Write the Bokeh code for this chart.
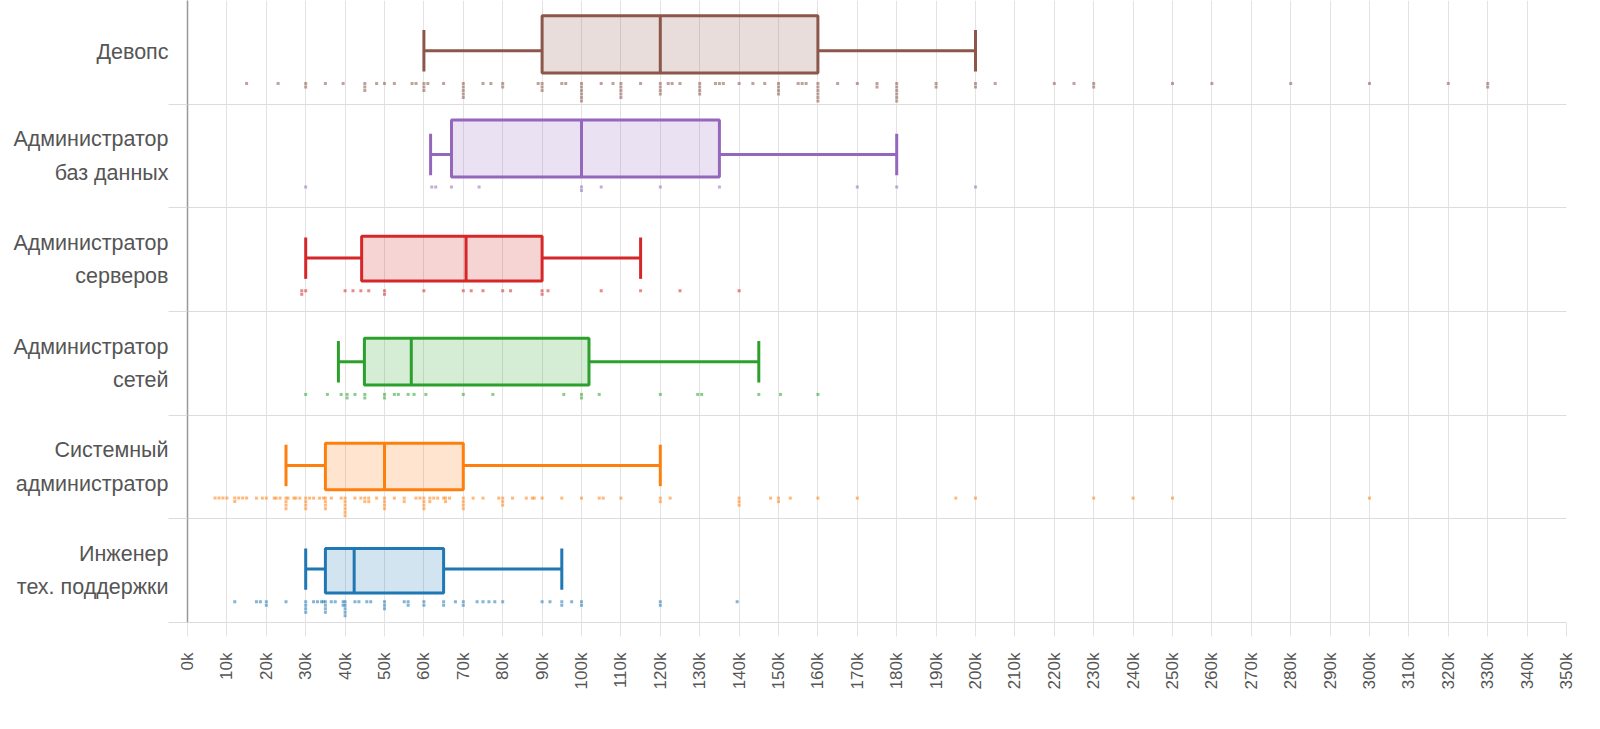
import numpy as np
from bokeh.plotting import figure
from bokeh.models import FixedTicker, Range1d, ColumnDataSource
from bokeh.embed import file_html
from bokeh.resources import INLINE

# ---------------- data (salaries in thousands) ----------------
categories = ["Инженер\nтех. поддержки", "Системный\nадминистратор", "Администратор\nсетей",
              "Администратор\nсерверов", "Администратор\nбаз данных", "Девопс"]
colors = ["#1f77b4", "#ff7f0e", "#2ca02c", "#d62728", "#9467bd", "#8c564b"]

whisker_low = [30, 25, 38.3, 30, 61.7, 60]
q1 = [35, 35, 44.9, 44.2, 67, 90]
median = [42.3, 50, 56.8, 70.7, 100, 120]
q3 = [65, 70, 101.9, 90, 135, 160]
whisker_high = [95, 120, 145, 115, 180, 200]

support = [12, 17.5, 18.5, 20, 20, 25, 30, 30, 30, 30, 32, 33, 34, 34.5, 35, 35, 35, 35,
           36.5, 37.5, 39.5, 39.5, 40, 40, 40, 40, 40, 42.5, 43.5, 45.5, 46.5, 50, 50, 50,
           55, 56, 56, 60, 60, 65, 65, 68, 70, 70, 73.5, 75, 76.5, 78, 80, 90, 92,
           95, 95, 97.5, 100, 100, 120, 120, 139.5]
sysadmin = [7, 8, 9, 10, 12, 12, 13, 14, 15, 17.5, 19, 20, 22, 22.5, 23.5, 25, 25, 25, 25, 25.5,
            27, 27.5, 28.5, 30, 30, 30, 30, 31, 32, 33.5, 34.5, 35, 35, 35, 35, 36.5, 39,
            40, 40, 40, 40, 40, 40, 42.5, 44, 45, 45, 46, 46, 48, 50, 50, 50, 50, 52.5, 55, 55,
            58, 59, 60, 60, 60, 60, 61.5, 61.5, 62.5, 63.5, 65, 65.5, 65.5, 66.5, 70, 70, 70,
            70, 72.5, 75, 79, 80, 80, 80, 82.5, 86, 87.5, 88, 90, 95, 100, 104.5, 105.5, 110,
            120, 120, 122.5, 140, 140, 140, 148, 150, 150, 153, 160, 170, 195, 200, 230, 240, 250, 300]
network = [30, 35.5, 39, 40.5, 40.5, 42.5, 45, 45, 50, 50, 52.5, 53.5, 56, 57.5,
           60.5, 70, 77.5, 95.5, 100, 100, 104.5, 120, 129.5, 130.5, 145, 150.5, 160]
servers = [29, 29, 30, 40, 42, 44, 46, 50, 50, 60, 70, 72, 75, 80, 82, 90, 90, 91.5, 105,
           115, 125, 140]
dba = [30, 62, 63, 67, 74, 100, 100, 105, 120, 135, 170, 180, 200]
devops = [15, 23, 30, 30, 35, 39.5, 45, 45, 45, 48, 50, 52.5, 57, 58, 60, 60, 60,
          61, 65, 70, 70, 70, 70, 70, 75, 77, 80, 80, 89, 90, 90, 90, 95, 96,
          100, 100, 100, 100, 100, 100, 105, 108, 110, 110, 110, 110, 110,
          115, 120, 120, 120, 120, 122, 123, 125, 130, 130, 130, 130, 134, 135,
          136, 140, 143.5, 146.5, 150, 150, 150, 150, 155, 156, 157, 160, 160, 160,
          160, 160, 160, 165, 170, 175, 175, 180, 180, 180, 180, 180, 180,
          190, 190, 200, 200, 205, 220, 225, 230, 230, 250, 260, 280, 300, 320,
          330, 330]
points = [support, sysadmin, network, servers, dba, devops]

x_ticks = list(range(0, 351, 10))
x_tick_labels = [f"{v}k" for v in x_ticks]

# ---------------- layout (band units, 1 band = one category row) ----------------
box_bottom_off = [0.285, 0.28, 0.29, 0.294, 0.298, 0.30]
box_top_off = [0.715, 0.73, 0.742, 0.727, 0.848, 0.852]
WHISK_C = 0.515
CAP_HALF = 0.2
DOT_BASE = 0.2
DOT_STEP = 0.034

p = figure(width=1584, height=713, x_range=Range1d(0, 350), y_range=Range1d(0, 6),
           output_backend="svg", toolbar_location=None,
           min_border_left=187, min_border_right=18, min_border_top=0, min_border_bottom=91)
p.outline_line_color = None
p.background_fill_color = "white"

# grids
p.xgrid.ticker = FixedTicker(ticks=x_ticks)
p.xgrid.grid_line_color = "#e3e3e3"
p.xgrid.grid_line_width = 1
p.ygrid.ticker = FixedTicker(ticks=[0, 1, 2, 3, 4, 5])
p.ygrid.grid_line_color = "#dcdcdc"
p.ygrid.grid_line_width = 1

# x axis
xa = p.xaxis[0]
xa.ticker = FixedTicker(ticks=x_ticks)
xa.major_label_overrides = {v: l for v, l in zip(x_ticks, x_tick_labels)}
xa.major_label_orientation = np.pi / 2
xa.major_tick_out = 14
xa.major_tick_in = 0
xa.major_tick_line_color = "#e3e3e3"
xa.minor_tick_line_color = None
xa.axis_line_color = "#dcdcdc"
xa.major_label_standoff = 16
xa.major_label_text_font = "Liberation Sans"
xa.major_label_text_font_size = "17px"
xa.major_label_text_color = "#555555"

# y axis
ya = p.yaxis[0]
centers = [i + 0.5 for i in range(len(categories))]
ya.ticker = FixedTicker(ticks=centers, minor_ticks=[0, 1, 2, 3, 4, 5])
ya.major_label_overrides = {c: l for c, l in zip(centers, categories)}
ya.major_tick_line_color = None
ya.major_tick_out = 0
ya.major_tick_in = 0
ya.minor_tick_out = 19
ya.minor_tick_in = 0
ya.minor_tick_line_color = "#dcdcdc"
ya.axis_line_color = "#999999"
ya.axis_line_width = 1.5
ya.major_label_standoff = 0
ya.major_label_text_font = "Liberation Sans"
ya.major_label_text_font_size = "21.5px"
ya.major_label_text_color = "#555555"
ya.major_label_text_line_height = 1.4

# boxes
n = len(categories)
bot = [i + box_bottom_off[i] for i in range(n)]
top = [i + box_top_off[i] for i in range(n)]
mid = [i + WHISK_C for i in range(n)]
cap0 = [i + WHISK_C - CAP_HALF for i in range(n)]
cap1 = [i + WHISK_C + CAP_HALF for i in range(n)]
src = ColumnDataSource(dict(q1=q1, q3=q3, med=median, lo=whisker_low, hi=whisker_high,
                            bot=bot, top=top, mid=mid, cap0=cap0, cap1=cap1, color=colors))
p.segment(x0="lo", x1="q1", y0="mid", y1="mid", line_color="color", line_width=3, source=src)
p.segment(x0="q3", x1="hi", y0="mid", y1="mid", line_color="color", line_width=3, source=src)
p.segment(x0="lo", x1="lo", y0="cap0", y1="cap1", line_color="color", line_width=3, source=src)
p.segment(x0="hi", x1="hi", y0="cap0", y1="cap1", line_color="color", line_width=3, source=src)
p.quad(left="q1", right="q3", bottom="bot", top="top", fill_color="color", fill_alpha=0.2,
       line_color="color", line_width=3, source=src)
p.segment(x0="med", x1="med", y0="bot", y1="top", line_color="color", line_width=3, source=src)

# dots (stacked downward when equal)
for i, vals in enumerate(points):
    counts = {}
    xs, ys = [], []
    for v in vals:
        k = counts.get(v, 0)
        counts[v] = k + 1
        xs.append(v)
        ys.append(i + DOT_BASE - k * DOT_STEP)
    p.scatter(xs, ys, marker="square", size=3, fill_color=colors[i], fill_alpha=0.55,
              line_color=None)

open("out.html", "w").write(file_html(p, INLINE))
